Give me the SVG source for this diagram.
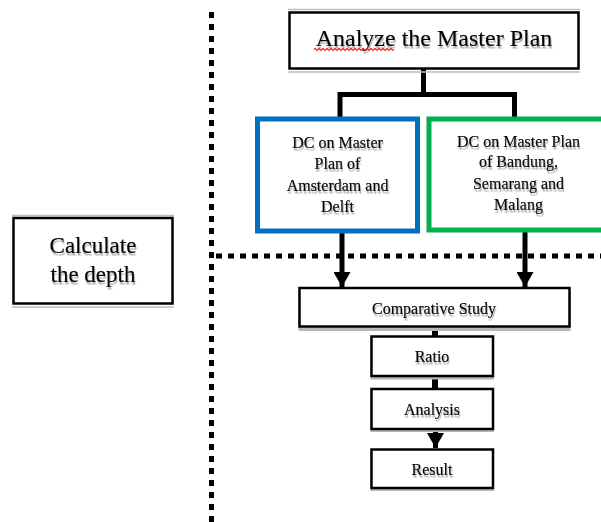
<svg xmlns="http://www.w3.org/2000/svg" width="601" height="522" viewBox="0 0 601 522">
<defs>
<style>
.t{font-family:"Liberation Serif","Times New Roman",serif;fill:#000;stroke:#000;stroke-width:0.2;text-anchor:middle;filter:url(#ts)}
.box{fill:#fff;stroke:#000;stroke-width:2.5}
.sh{fill:#b8b8b8}
.conn{stroke:#000;stroke-width:5;fill:none}
.dot{stroke:#000;stroke-width:5;stroke-dasharray:6 6;fill:none}
.glin{stroke:#bdbdbd;stroke-width:1.5}
</style>
<filter id="ts" x="-10%" y="-20%" width="120%" height="160%">
<feDropShadow dx="0.8" dy="2.5" stdDeviation="0.7" flood-color="#777" flood-opacity="0.6"/>
</filter>
<marker id="ah" viewBox="0 0 15 17" refX="15" refY="8.5" markerWidth="15" markerHeight="17" markerUnits="userSpaceOnUse" orient="auto">
<path d="M0,0 L15,8.5 L0,17 z" fill="#000"/>
</marker>
</defs>
<rect width="601" height="522" fill="#fff"/>

<g id="dividers">
<line class="dot" x1="211.5" y1="12" x2="211.5" y2="522"/>
<line class="dot" x1="216" y1="256" x2="601" y2="256"/>
</g>

<g id="connectors">
<path class="conn" d="M423.5,69 V94.5 M337.5,94.5 H517 M340,94.5 V117 M514.5,94.5 V117"/>
<line class="conn" x1="342" y1="233" x2="342" y2="287" marker-end="url(#ah)"/>
<line class="conn" x1="525" y1="232" x2="525" y2="287" marker-end="url(#ah)"/>
<line class="conn" style="stroke-width:6" x1="435" y1="327" x2="435" y2="336"/>
<line class="conn" style="stroke-width:6" x1="435" y1="376" x2="435" y2="389"/>
<line class="conn" x1="435.5" y1="429" x2="435.5" y2="448" marker-end="url(#ah)"/>
</g>

<g id="analyze">
<line class="glin" x1="288" y1="9.5" x2="580" y2="9.5"/>
<line class="glin" x1="288" y1="72" x2="580" y2="72"/>
<rect class="box" x="289.5" y="12.5" width="289" height="56"/>
<text class="t" x="434" y="45.5" font-size="24">Analyze the Master Plan</text>
<path d="M314,49.5 q1,-1.6 2,0 t2,0 t2,0 t2,0 t2,0 t2,0 t2,0 t2,0 t2,0 t2,0 t2,0 t2,0 t2,0 t2,0 t2,0 t2,0 t2,0 t2,0 t2,0 t2,0 t2,0 t2,0 t2,0 t2,0 t2,0 t2,0 t2,0 t2,0 t2,0 t2,0 t2,0 t2,0 t2,0 t2,0 t2,0 t2,0 t2,0 t2,0 t2,0 t2,0" fill="none" stroke="#e02020" stroke-width="1.3"/>
</g>

<g id="dc-amsterdam">
<rect x="257.5" y="119" width="160" height="112" fill="#fff" stroke="#0070C0" stroke-width="5"/>
<text class="t" font-size="16"><tspan x="337.5" y="148">DC on Master</tspan><tspan x="337.5" y="169">Plan of</tspan><tspan x="337.5" y="190.5">Amsterdam and</tspan><tspan x="337.5" y="211.5">Delft</tspan></text>
</g>

<g id="dc-indonesia">
<rect x="429" y="119" width="185" height="111" fill="#fff" stroke="#00B050" stroke-width="5"/>
<text class="t" font-size="16"><tspan x="518.5" y="147">DC on Master Plan</tspan><tspan x="518.5" y="167">of Bandung,</tspan><tspan x="518.5" y="188.5">Semarang and</tspan><tspan x="518.5" y="210">Malang</tspan></text>
</g>

<g id="calculate">
<line class="glin" x1="12" y1="215.5" x2="174" y2="215.5"/>
<line class="glin" x1="12" y1="307" x2="174" y2="307"/>
<rect class="box" x="13.5" y="218" width="159" height="85.5"/>
<text class="t" font-size="23"><tspan x="93" y="253">Calculate</tspan><tspan x="93" y="281.5">the depth</tspan></text>
</g>

<g id="comparative">
<rect class="sh" x="298.5" y="291" width="272" height="40"/>
<rect class="box" x="299.5" y="288" width="270" height="38.5"/>
<text class="t" x="434" y="313.5" font-size="16">Comparative Study</text>
</g>

<g id="ratio">
<rect class="sh" x="370.5" y="339.5" width="123.5" height="40"/>
<rect class="box" x="371.5" y="336.5" width="121.5" height="39.5"/>
<text class="t" x="432" y="362" font-size="16">Ratio</text>
</g>

<g id="analysis">
<rect class="sh" x="370.5" y="392" width="123.5" height="40"/>
<rect class="box" x="371.5" y="389" width="121.5" height="40"/>
<text class="t" x="432" y="415" font-size="16">Analysis</text>
</g>

<g id="result">
<rect class="sh" x="370.5" y="452" width="123.5" height="39"/>
<rect class="box" x="371.5" y="449.5" width="121.5" height="38.5"/>
<text class="t" x="432" y="474.5" font-size="16">Result</text>
</g>
</svg>
